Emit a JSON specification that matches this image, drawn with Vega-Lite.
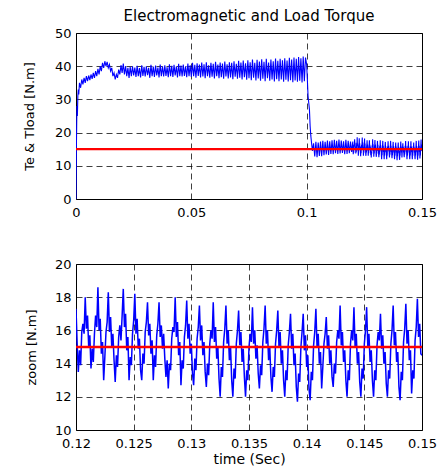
{
"$schema": "https://vega.github.io/schema/vega-lite/v6.json",
"padding": {"left": 22, "top": 8, "right": 0, "bottom": 0},
"spacing": 37,
"config": {
 "font": "DejaVu Sans",
 "view": {"stroke": "#000", "strokeWidth": 1},
 "axis": {"grid": true, "gridColor": "#000", "gridDash": [6, 4], "gridOpacity": 0.75, "gridWidth": 1, "ticks": false, "domain": false, "labelFontSize": 13, "labelColor": "#000", "titleFontSize": 13, "titleFontWeight": "normal", "titleColor": "#000", "labelPadding": 5, "labelFlush": false, "labelOverlap": false},
 "axisX": {"labelPadding": 7},
 "title": {"fontSize": 15, "fontWeight": "normal", "color": "#000", "offset": 3}
},
"datasets": {
 "load": [{"t": 0, "v": 15}, {"t": 0.15, "v": 15}],
 "te": [
{"t":0,"v":0},{"t":0.0002,"v":17},{"t":0.0004,"v":28},{"t":0.0006,"v":25},{"t":0.0008,"v":31},{"t":0.001,"v":33},{"t":0.0012,"v":31.5},{"t":0.0015,"v":35},{"t":0.002,"v":33.5},{"t":0.0025,"v":36},{"t":0.003,"v":34.5},{"t":0.0035,"v":36.5},{"t":0.004,"v":35},{"t":0.0045,"v":37},{"t":0.005,"v":35.5},{"t":0.0055,"v":37.2},{"t":0.006,"v":35.8},{"t":0.0065,"v":37.5},{"t":0.007,"v":36.2},{"t":0.0075,"v":38},{"t":0.008,"v":36.5},{"t":0.0085,"v":38.5},{"t":0.009,"v":37},{"t":0.0095,"v":39.2},{"t":0.01,"v":37.5},{"t":0.0105,"v":40},{"t":0.011,"v":38.5},{"t":0.0115,"v":41},{"t":0.012,"v":39.5},{"t":0.0125,"v":41.5},{"t":0.013,"v":40},{"t":0.0135,"v":41.3},{"t":0.014,"v":39.5},{"t":0.0145,"v":40.5},{"t":0.015,"v":38.5},{"t":0.0155,"v":39.5},{"t":0.016,"v":37},{"t":0.0165,"v":38},{"t":0.017,"v":36},{"t":0.0175,"v":37.5},{"t":0.018,"v":36.5},{"t":0.0185,"v":39},{"t":0.019,"v":37.5},{"t":0.0195,"v":40.3},{"t":0.02,"v":38},{"t":0.0205,"v":40.8},{"t":0.021,"v":37.5},{"t":0.0215,"v":40},{"t":0.022,"v":37},{"t":0.0225,"v":39.5},{"t":0.023,"v":36.5},{"t":0.0235,"v":39.8},{"t":0.024,"v":37},{"t":0.0245,"v":40},
{"t":0.025,"v":37.2},{"t":0.0255,"v":39.6},{"t":0.026,"v":36.8},{"t":0.0265,"v":40.1},{"t":0.027,"v":37},{"t":0.0275,"v":39.4},{"t":0.028,"v":36.6},{"t":0.0285,"v":40.3},{"t":0.029,"v":37.1},{"t":0.0295,"v":39.8},{"t":0.03,"v":36.9},{"t":0.0305,"v":40},{"t":0.031,"v":37.3},{"t":0.0315,"v":39.5},{"t":0.032,"v":36.5},{"t":0.0325,"v":40.4},{"t":0.033,"v":37},{"t":0.0335,"v":39.9},{"t":0.034,"v":36.8},{"t":0.0345,"v":40.2},{"t":0.035,"v":37.2},{"t":0.0355,"v":39.6},{"t":0.036,"v":36.6},{"t":0.0365,"v":40.5},{"t":0.037,"v":37},{"t":0.0375,"v":40},{"t":0.038,"v":36.9},{"t":0.0385,"v":40.3},{"t":0.039,"v":37.1},{"t":0.0395,"v":39.7},{"t":0.04,"v":36.7},{"t":0.0405,"v":40.6},{"t":0.041,"v":37},{"t":0.0415,"v":40.1},{"t":0.042,"v":36.8},{"t":0.0425,"v":40.4},{"t":0.043,"v":37.2},{"t":0.0435,"v":39.9},{"t":0.044,"v":36.6},{"t":0.0445,"v":40.7},{"t":0.045,"v":37},{"t":0.0455,"v":40.2},{"t":0.046,"v":36.9},{"t":0.0465,"v":40.5},{"t":0.047,"v":37.1},{"t":0.0475,"v":40},{"t":0.048,"v":36.7},{"t":0.0485,"v":40.8},{"t":0.049,"v":37},{"t":0.0495,"v":40.3},
{"t":0.05,"v":36.8},{"t":0.0505,"v":41},{"t":0.051,"v":37},{"t":0.0515,"v":40.4},{"t":0.052,"v":36.5},{"t":0.0525,"v":40.9},{"t":0.053,"v":37.1},{"t":0.0535,"v":40.5},{"t":0.054,"v":36.6},{"t":0.0545,"v":41.1},{"t":0.055,"v":36.9},{"t":0.0555,"v":40.6},{"t":0.056,"v":36.4},{"t":0.0565,"v":41.2},{"t":0.057,"v":37},{"t":0.0575,"v":40.3},{"t":0.058,"v":36.5},{"t":0.0585,"v":41},{"t":0.059,"v":36.8},{"t":0.0595,"v":40.7},{"t":0.06,"v":36.3},{"t":0.0605,"v":41.3},{"t":0.061,"v":37},{"t":0.0615,"v":40.5},{"t":0.062,"v":36.4},{"t":0.0625,"v":41.1},{"t":0.063,"v":36.7},{"t":0.0635,"v":40.8},{"t":0.064,"v":36.2},{"t":0.0645,"v":41.4},{"t":0.065,"v":36.9},{"t":0.0655,"v":40.6},{"t":0.066,"v":36.3},{"t":0.0665,"v":41.2},{"t":0.067,"v":36.6},{"t":0.0675,"v":41},{"t":0.068,"v":36.1},{"t":0.0685,"v":41.5},{"t":0.069,"v":36.8},{"t":0.0695,"v":40.7},{"t":0.07,"v":36.2},{"t":0.0705,"v":41.6},{"t":0.071,"v":36.5},{"t":0.0715,"v":41.1},{"t":0.072,"v":36},{"t":0.0725,"v":41.7},{"t":0.073,"v":36.7},{"t":0.0735,"v":40.9},{"t":0.074,"v":35.9},{"t":0.0745,"v":41.8},
{"t":0.075,"v":36.4},{"t":0.0755,"v":41.2},{"t":0.076,"v":35.8},{"t":0.0765,"v":42},{"t":0.077,"v":36.5},{"t":0.0775,"v":41},{"t":0.078,"v":35.7},{"t":0.0785,"v":41.9},{"t":0.079,"v":36.3},{"t":0.0795,"v":41.4},{"t":0.08,"v":35.6},{"t":0.0805,"v":42.1},{"t":0.081,"v":36.2},{"t":0.0815,"v":41.3},{"t":0.082,"v":35.5},{"t":0.0825,"v":42.2},{"t":0.083,"v":36.4},{"t":0.0835,"v":41.1},{"t":0.084,"v":35.6},{"t":0.0845,"v":42},{"t":0.085,"v":36},{"t":0.0855,"v":41.5},{"t":0.086,"v":35.4},{"t":0.0865,"v":42.3},{"t":0.087,"v":36.1},{"t":0.0875,"v":41.6},{"t":0.088,"v":35.5},{"t":0.0885,"v":42.2},{"t":0.089,"v":36},{"t":0.0895,"v":41.8},{"t":0.09,"v":35.3},{"t":0.0905,"v":42.4},{"t":0.091,"v":35.9},{"t":0.0915,"v":41.7},{"t":0.092,"v":35.4},{"t":0.0925,"v":42.5},{"t":0.093,"v":35.8},{"t":0.0935,"v":42},{"t":0.094,"v":35.2},{"t":0.0945,"v":42.6},{"t":0.095,"v":35.7},{"t":0.0955,"v":42.2},{"t":0.096,"v":35.3},{"t":0.0965,"v":42.8},{"t":0.097,"v":35.6},{"t":0.0975,"v":42.4},{"t":0.098,"v":35.1},{"t":0.0985,"v":42.9},{"t":0.099,"v":35.5},{"t":0.0995,"v":42.6},
{"t":0.1,"v":40.5},{"t":0.1003,"v":36},{"t":0.1006,"v":31},{"t":0.1009,"v":29},{"t":0.1012,"v":27},{"t":0.1015,"v":22},{"t":0.1018,"v":19},{"t":0.1021,"v":17},{"t":0.1025,"v":14.5},
{"t":0.103,"v":16.8},{"t":0.1035,"v":12.8},{"t":0.104,"v":17.2},{"t":0.1045,"v":12.6},{"t":0.105,"v":17},{"t":0.1055,"v":13},{"t":0.106,"v":17.3},{"t":0.1065,"v":12.9},{"t":0.107,"v":17.5},{"t":0.1075,"v":13.2},{"t":0.108,"v":17.2},{"t":0.1085,"v":13.4},{"t":0.109,"v":17.6},{"t":0.1095,"v":13.3},{"t":0.11,"v":17.4},{"t":0.1105,"v":13.6},{"t":0.111,"v":17.7},{"t":0.1115,"v":13.5},{"t":0.112,"v":17.8},{"t":0.1125,"v":13.8},{"t":0.113,"v":17.5},{"t":0.1135,"v":13.6},{"t":0.114,"v":17.9},{"t":0.1145,"v":13.7},{"t":0.115,"v":17.6},{"t":0.1155,"v":13.9},{"t":0.116,"v":17.4},{"t":0.1165,"v":13.5},{"t":0.117,"v":17.8},{"t":0.1175,"v":13.6},{"t":0.118,"v":17.5},{"t":0.1185,"v":13.8},{"t":0.119,"v":17.3},{"t":0.1195,"v":14.2},
{"t":0.12,"v":17.3},{"t":0.1201,"v":15.2},{"t":0.1202,"v":13.5},{"t":0.1203,"v":14.8},{"t":0.1204,"v":13.9},{"t":0.1205,"v":15.9},{"t":0.1206,"v":16.4},{"t":0.1207,"v":15.8},{"t":0.1208,"v":18},
{"t":0.1209,"v":16.1},{"t":0.121,"v":16.9},{"t":0.1211,"v":15},{"t":0.1212,"v":15.7},{"t":0.1213,"v":13.7},{"t":0.1214,"v":14.9},{"t":0.1215,"v":14.1},{"t":0.1216,"v":15.8},{"t":0.1217,"v":16.9},{"t":0.1218,"v":16.2},{"t":0.1219,"v":18.6},
{"t":0.122,"v":16},{"t":0.1221,"v":16.7},{"t":0.1222,"v":14.6},{"t":0.1223,"v":15.3},{"t":0.1224,"v":13},{"t":0.1225,"v":14.4},{"t":0.1226,"v":15.9},{"t":0.1227,"v":16.5},{"t":0.1228,"v":18.3},
{"t":0.1229,"v":15.9},{"t":0.123,"v":16.8},{"t":0.1231,"v":15},{"t":0.1232,"v":15.8},{"t":0.1233,"v":14.2},{"t":0.1234,"v":12.9},{"t":0.1235,"v":14.5},{"t":0.1236,"v":13.8},{"t":0.1237,"v":15.6},{"t":0.1238,"v":16.3},{"t":0.1239,"v":15.4},{"t":0.124,"v":16.9},{"t":0.1241,"v":18.5},
{"t":0.1242,"v":16.2},{"t":0.1243,"v":17},{"t":0.1244,"v":14.8},{"t":0.1245,"v":15.6},{"t":0.1246,"v":13},{"t":0.1247,"v":14.4},{"t":0.1248,"v":13.9},{"t":0.1249,"v":15.8},{"t":0.125,"v":16.6},{"t":0.1251,"v":18.2},
{"t":0.1252,"v":15.8},{"t":0.1253,"v":16.7},{"t":0.1254,"v":14.9},{"t":0.1255,"v":15.5},{"t":0.1256,"v":13.6},{"t":0.1257,"v":13},{"t":0.1258,"v":14.6},{"t":0.1259,"v":14},{"t":0.126,"v":15.9},{"t":0.1261,"v":16.5},{"t":0.1262,"v":17.7},
{"t":0.1263,"v":15.7},{"t":0.1264,"v":16.4},{"t":0.1265,"v":14.6},{"t":0.1266,"v":15.4},{"t":0.1267,"v":13},{"t":0.1268,"v":14.5},{"t":0.1269,"v":13.8},{"t":0.127,"v":15.7},{"t":0.1271,"v":16.4},{"t":0.1272,"v":17.7},
{"t":0.1273,"v":15.6},{"t":0.1274,"v":16.3},{"t":0.1275,"v":14.9},{"t":0.1276,"v":15.8},{"t":0.1277,"v":14.3},{"t":0.1278,"v":13.2},{"t":0.1279,"v":14.2},{"t":0.128,"v":12.5},{"t":0.1281,"v":14},{"t":0.1282,"v":13.6},{"t":0.1283,"v":15.5},{"t":0.1284,"v":16.2},{"t":0.1285,"v":15.9},{"t":0.1286,"v":18},
{"t":0.1287,"v":15.6},{"t":0.1288,"v":16.5},{"t":0.1289,"v":14.5},{"t":0.129,"v":15.3},{"t":0.1291,"v":12.7},{"t":0.1292,"v":14.2},{"t":0.1293,"v":13.7},{"t":0.1294,"v":15.6},{"t":0.1295,"v":16.3},{"t":0.1296,"v":17.8},
{"t":0.1297,"v":15.5},{"t":0.1298,"v":16.4},{"t":0.1299,"v":14.6},{"t":0.13,"v":15.2},{"t":0.1301,"v":13.4},{"t":0.1302,"v":12.7},{"t":0.1303,"v":14.3},{"t":0.1304,"v":13.6},{"t":0.1305,"v":15.5},{"t":0.1306,"v":16.2},{"t":0.1307,"v":17.5},
{"t":0.1308,"v":15.4},{"t":0.1309,"v":16.3},{"t":0.131,"v":14.5},{"t":0.1311,"v":15.3},{"t":0.1312,"v":13.5},{"t":0.1313,"v":12.6},{"t":0.1314,"v":14},{"t":0.1315,"v":13.3},{"t":0.1316,"v":15.2},{"t":0.1317,"v":16},{"t":0.1318,"v":15.5},{"t":0.1319,"v":17.7},
{"t":0.132,"v":15.3},{"t":0.1321,"v":16.2},{"t":0.1322,"v":14.3},{"t":0.1323,"v":15},{"t":0.1324,"v":13.1},{"t":0.1325,"v":12},{"t":0.1326,"v":13.8},{"t":0.1327,"v":13.2},{"t":0.1328,"v":15.3},{"t":0.1329,"v":16.1},{"t":0.133,"v":17.5},
{"t":0.1331,"v":15.2},{"t":0.1332,"v":16},{"t":0.1333,"v":14.2},{"t":0.1334,"v":15},{"t":0.1335,"v":13},{"t":0.1336,"v":12},{"t":0.1337,"v":13.7},{"t":0.1338,"v":13.1},{"t":0.1339,"v":15.2},{"t":0.134,"v":16},{"t":0.1341,"v":17.2},
{"t":0.1342,"v":15.1},{"t":0.1343,"v":15.9},{"t":0.1344,"v":14.1},{"t":0.1345,"v":14.9},{"t":0.1346,"v":13.2},{"t":0.1347,"v":12},{"t":0.1348,"v":13.6},{"t":0.1349,"v":13},{"t":0.135,"v":15},{"t":0.1351,"v":15.8},{"t":0.1352,"v":15.3},{"t":0.1353,"v":17.4},
{"t":0.1354,"v":15.2},{"t":0.1355,"v":16},{"t":0.1356,"v":14.3},{"t":0.1357,"v":15.1},{"t":0.1358,"v":13.4},{"t":0.1359,"v":12.5},{"t":0.136,"v":13.9},{"t":0.1361,"v":13.3},{"t":0.1362,"v":15.3},{"t":0.1363,"v":16.1},{"t":0.1364,"v":17.5},
{"t":0.1365,"v":15.2},{"t":0.1366,"v":16},{"t":0.1367,"v":14.2},{"t":0.1368,"v":15},{"t":0.1369,"v":13.2},{"t":0.137,"v":12.3},{"t":0.1371,"v":13.8},{"t":0.1372,"v":13.2},{"t":0.1373,"v":15.2},{"t":0.1374,"v":16},{"t":0.1375,"v":17.2},
{"t":0.1376,"v":15},{"t":0.1377,"v":15.9},{"t":0.1378,"v":14},{"t":0.1379,"v":14.8},{"t":0.138,"v":13},{"t":0.1381,"v":12},{"t":0.1382,"v":13.6},{"t":0.1383,"v":13},{"t":0.1384,"v":15.1},{"t":0.1385,"v":15.9},{"t":0.1386,"v":17},
{"t":0.1387,"v":14.9},{"t":0.1388,"v":15.8},{"t":0.1389,"v":13.9},{"t":0.139,"v":14.6},{"t":0.1391,"v":12.6},{"t":0.1392,"v":11.7},{"t":0.1393,"v":13.4},{"t":0.1394,"v":12.9},{"t":0.1395,"v":15},{"t":0.1396,"v":15.9},{"t":0.1397,"v":17},
{"t":0.1398,"v":14.8},{"t":0.1399,"v":15.7},{"t":0.14,"v":13.8},{"t":0.1401,"v":14.5},{"t":0.1402,"v":12.5},{"t":0.1403,"v":11.8},{"t":0.1404,"v":13.5},{"t":0.1405,"v":13},{"t":0.1406,"v":15.1},{"t":0.1407,"v":15.9},{"t":0.1408,"v":17.3},
{"t":0.1409,"v":15},{"t":0.141,"v":15.8},{"t":0.1411,"v":14},{"t":0.1412,"v":14.7},{"t":0.1413,"v":12.5},{"t":0.1414,"v":13.8},{"t":0.1415,"v":15.2},{"t":0.1416,"v":15.8},{"t":0.1417,"v":16.8},
{"t":0.1418,"v":14.9},{"t":0.1419,"v":15.7},{"t":0.142,"v":14},{"t":0.1421,"v":14.8},{"t":0.1422,"v":13.2},{"t":0.1423,"v":12.6},{"t":0.1424,"v":14},{"t":0.1425,"v":13.4},{"t":0.1426,"v":15.3},{"t":0.1427,"v":16},{"t":0.1428,"v":15.5},{"t":0.1429,"v":17.5},
{"t":0.143,"v":15.1},{"t":0.1431,"v":15.9},{"t":0.1432,"v":14.1},{"t":0.1433,"v":14.8},{"t":0.1434,"v":13},{"t":0.1435,"v":12},{"t":0.1436,"v":13.6},{"t":0.1437,"v":13},{"t":0.1438,"v":15.2},{"t":0.1439,"v":16},{"t":0.144,"v":15.4},{"t":0.1441,"v":17.4},
{"t":0.1442,"v":15},{"t":0.1443,"v":15.8},{"t":0.1444,"v":14},{"t":0.1445,"v":14.7},{"t":0.1446,"v":12.9},{"t":0.1447,"v":12},{"t":0.1448,"v":13.7},{"t":0.1449,"v":13.1},{"t":0.145,"v":15.2},{"t":0.1451,"v":16},{"t":0.1452,"v":17.4},
{"t":0.1453,"v":15},{"t":0.1454,"v":15.8},{"t":0.1455,"v":14.1},{"t":0.1456,"v":14.8},{"t":0.1457,"v":13},{"t":0.1458,"v":12},{"t":0.1459,"v":13.6},{"t":0.146,"v":13},{"t":0.1461,"v":15.1},{"t":0.1462,"v":15.9},{"t":0.1463,"v":15.4},{"t":0.1464,"v":17},
{"t":0.1465,"v":14.9},{"t":0.1466,"v":15.7},{"t":0.1467,"v":14},{"t":0.1468,"v":14.7},{"t":0.1469,"v":12.8},{"t":0.147,"v":12},{"t":0.1471,"v":13.6},{"t":0.1472,"v":13.1},{"t":0.1473,"v":15.2},{"t":0.1474,"v":16},{"t":0.1475,"v":17.5},
{"t":0.1476,"v":15.1},{"t":0.1477,"v":15.9},{"t":0.1478,"v":14.1},{"t":0.1479,"v":14.7},{"t":0.148,"v":12.6},{"t":0.1481,"v":11.8},{"t":0.1482,"v":13.5},{"t":0.1483,"v":13},{"t":0.1484,"v":15.3},{"t":0.1485,"v":16.1},{"t":0.1486,"v":17.6},
{"t":0.1487,"v":15.2},{"t":0.1488,"v":16},{"t":0.1489,"v":14.2},{"t":0.149,"v":14.8},{"t":0.1491,"v":12.2},{"t":0.1492,"v":13.6},{"t":0.1493,"v":13.1},{"t":0.1494,"v":15.4},{"t":0.1495,"v":16.2},{"t":0.1496,"v":17.9},
{"t":0.1497,"v":15.6},{"t":0.1498,"v":16.4},{"t":0.1499,"v":14.6},{"t":0.15,"v":14.5}
 ]
},
"vconcat": [
 {
  "title": "Electromagnetic and Load Torque",
  "width": 346, "height": 166,
  "encoding": {
   "x": {"field": "t", "type": "quantitative", "scale": {"domain": [0, 0.15], "nice": false, "zero": false}, "axis": {"values": [0, 0.05, 0.1, 0.15], "format": ".3~f", "title": null}},
   "y": {"field": "v", "type": "quantitative", "scale": {"domain": [0, 50], "nice": false}, "axis": {"values": [0, 10, 20, 30, 40, 50], "title": "Te & Tload [N.m]", "titlePadding": 18}}
  },
  "layer": [
   {"data": {"name": "te"}, "mark": {"type": "line", "color": "#0000ff", "strokeWidth": 1.1, "clip": true}},
   {"data": {"name": "load"}, "mark": {"type": "line", "color": "#ff0000", "strokeWidth": 2.2, "clip": true}}
  ]
 },
 {
  "width": 346, "height": 166,
  "encoding": {
   "x": {"field": "t", "type": "quantitative", "scale": {"domain": [0.12, 0.15], "nice": false, "zero": false}, "axis": {"values": [0.12, 0.125, 0.13, 0.135, 0.14, 0.145, 0.15], "format": ".3~f", "title": "time (Sec)", "titleFontSize": 14, "titlePadding": 2}},
   "y": {"field": "v", "type": "quantitative", "scale": {"domain": [10, 20], "nice": false, "zero": false}, "axis": {"values": [10, 12, 14, 16, 18, 20], "title": "zoom [N.m]", "titlePadding": 16}}
  },
  "layer": [
   {"data": {"name": "te"}, "mark": {"type": "line", "color": "#0000ff", "strokeWidth": 1.5, "clip": true}},
   {"data": {"name": "load"}, "mark": {"type": "line", "color": "#ff0000", "strokeWidth": 2.6, "clip": true}}
  ]
 }
]
}
